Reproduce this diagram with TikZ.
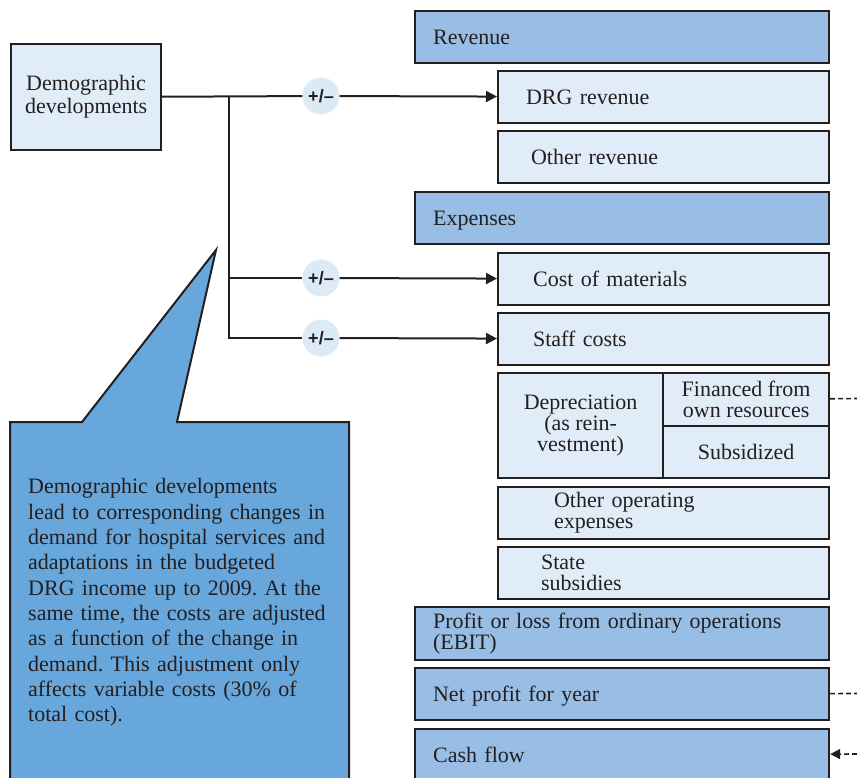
\documentclass[tikz,border=0pt]{standalone}
\usepackage{fontspec}
\setmainfont{Liberation Serif}
\setsansfont{Liberation Sans}
\usetikzlibrary{arrows.meta}
\frenchspacing
\definecolor{linec}{HTML}{231F20}
\definecolor{darkc}{HTML}{98BEE5}
\definecolor{lightc}{HTML}{E0EDF8}
\definecolor{notec}{HTML}{68A7DB}
\definecolor{pmc}{HTML}{DCEAF6}
\begin{document}
\begin{tikzpicture}[x=1pt, y=-1pt,
  boxtext/.style={font=\fontsize{22}{21}\selectfont, text=linec},
  box/.style={boxtext, draw=linec, line width=2.2pt, anchor=north west,
    minimum height=52pt, inner ysep=2pt, align=left},
  dbox/.style={box, fill=darkc, minimum width=414pt, inner xsep=18pt, text width=378pt},
  lbox/.style={box, fill=lightc, minimum width=331pt},
  oneline/.style={text height=15pt, text depth=0pt},
  cell/.style={box, fill=lightc, inner sep=0pt, align=center},
  pm/.style={circle, fill=pmc, minimum size=37pt, inner sep=0pt,
    font=\fontsize{18}{18}\selectfont\sffamily\bfseries, text=linec},
  link/.style={draw=linec, line width=2pt},
  arr/.style={-{Triangle[length=11pt,width=11pt]}},
  dashlink/.style={link, line width=1.6pt, dash pattern=on 5pt off 3pt},
  note/.style={anchor=north west, inner sep=0pt, text width=335pt, align=left,
    font=\fontsize{22}{25.3}\selectfont, text=linec}]
  \useasboundingbox (0,0) rectangle (857,778);

  %% Callout with text
  \draw[linec, line width=2pt, fill=notec] (10,422) -- (82,422) -- (216,250)
    -- (177,422) -- (349,422) -- (349,800) -- (10,800) -- cycle;
  \node[note] (note) at (28,478.5) {Demographic developments\\
    lead to corresponding changes in\\
    demand for hospital services and\\
    adaptations in the budgeted\\
    DRG income up to 2009. At the\\
    same time, the costs are adjusted\\
    as a function of the change in\\
    demand. This adjustment only\\
    affects variable costs (30\% of\\
    total cost).};

  %% Source box
  \node[box, fill=lightc, minimum width=150pt, minimum height=106pt, align=center,
    font=\fontsize{22}{23}\selectfont] (demog) at (10,43) {Demographic\\developments};

  %% Main rows
  \foreach \nm/\y/\txt in {rev/10/Revenue, exp/191/Expenses,
      net/667/Net profit for year, cash/728/Cash flow}{
    \node[dbox, oneline] (\nm) at (414,\y) {\txt};
  }
  \node[dbox, minimum height=53pt] (ebit) at (414,606)
    {Profit or loss from ordinary operations\\(EBIT)};

  %% Sub rows: name/top/text offset/text
  \foreach \nm/\y/\dx/\txt in {drg/70/28/DRG revenue, othrev/130/33/Other revenue,
      mat/252/35/Cost of materials, staff/312/35/Staff costs}{
    \pgfmathsetmacro\tw{331-2*\dx}
    \node[lbox, oneline, inner xsep=\dx pt, text width=\tw pt] (\nm) at (497,\y) {\txt};
  }
  \node[lbox, inner xsep=56pt, text width=219pt] (othop) at (497,486)
    {Other operating\\expenses};
  \node[lbox, inner xsep=43pt, text width=245pt] (state) at (497,546)
    {State\\subsidies};

  %% Depreciation block
  \node[cell, minimum width=165pt, minimum height=105pt] (dep) at (497,372)
    {Depreciation\\(as rein-\\vestment)};
  \node[cell, minimum width=166pt, minimum height=53pt] (fin) at (662,372)
    {Financed from\\own resources};
  \node[cell, minimum width=166pt, minimum height=52pt] (sub) at (662,425)
    {Subsidized};

  %% Influence lines
  \node[pm] (pm1) at (321,96) {+/\textendash};
  \node[pm] (pm2) at (321,278) {+/\textendash};
  \node[pm] (pm3) at (321,338) {+/\textendash};
  \coordinate (br) at (229,96);
  \draw[link] (demog) -- (pm1);
  \draw[link, arr] (pm1) -- (drg);
  \draw[link] (br) |- (pm3);
  \draw[link] (br |- pm2) -- (pm2);
  \draw[link, arr] (pm2) -- (mat);
  \draw[link, arr] (pm3) -- (staff);

  %% Links leaving the picture
  \coordinate (finout) at (857,398.5);
  \coordinate (netout) at (857,693.5);
  \coordinate (cashin) at (857,754);
  \draw[dashlink] (fin) -- (finout);
  \draw[dashlink] (net) -- (netout);
  \draw[dashlink, -{Triangle[length=10pt,width=10pt]}] (cashin) -- (cash);
\end{tikzpicture}
\end{document}
